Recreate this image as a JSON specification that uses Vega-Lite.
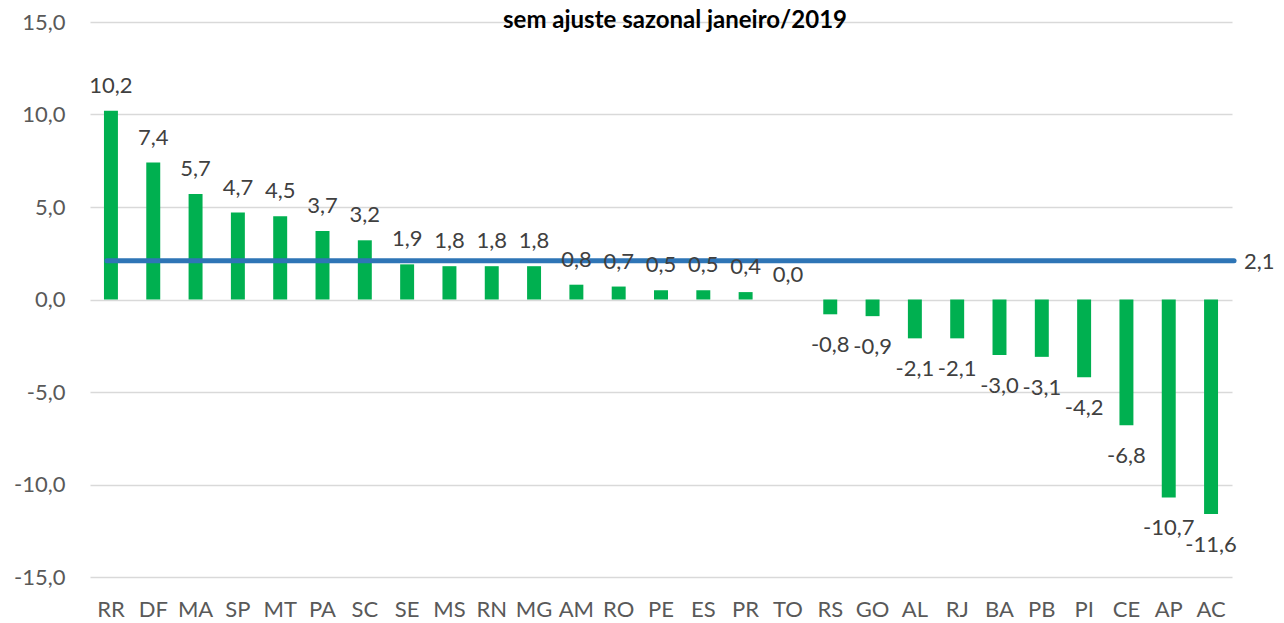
{
  "$schema": "https://vega.github.io/schema/vega-lite/v6.json",
  "width": 1142,
  "height": 555,
  "autosize": {"type": "none"},
  "padding": {"left": 90, "top": 22, "right": 52, "bottom": 46},
  "config": {
    "locale": {"number": {"decimal": ",", "thousands": ".", "grouping": [3], "currency": ["R$", ""], "minus": "-"}},
    "view": {"stroke": null},
    "font": "Lato"
  },
  "title": {
    "text": "sem ajuste sazonal  janeiro/2019",
    "fontSize": 24,
    "fontWeight": "bold",
    "color": "#000000",
    "font": "Lato",
    "anchor": "middle",
    "baseline": "alphabetic",
    "offset": -41,
    "dx": 14
  },
  "datasets": {
    "ufs": [
      {"uf": "RR", "valor": 10.2},
      {"uf": "DF", "valor": 7.4},
      {"uf": "MA", "valor": 5.7},
      {"uf": "SP", "valor": 4.7},
      {"uf": "MT", "valor": 4.5},
      {"uf": "PA", "valor": 3.7},
      {"uf": "SC", "valor": 3.2},
      {"uf": "SE", "valor": 1.9},
      {"uf": "MS", "valor": 1.8},
      {"uf": "RN", "valor": 1.8},
      {"uf": "MG", "valor": 1.8},
      {"uf": "AM", "valor": 0.8},
      {"uf": "RO", "valor": 0.7},
      {"uf": "PE", "valor": 0.5},
      {"uf": "ES", "valor": 0.5},
      {"uf": "PR", "valor": 0.4},
      {"uf": "TO", "valor": 0.0},
      {"uf": "RS", "valor": -0.8},
      {"uf": "GO", "valor": -0.9},
      {"uf": "AL", "valor": -2.1},
      {"uf": "RJ", "valor": -2.1},
      {"uf": "BA", "valor": -3.0},
      {"uf": "PB", "valor": -3.1},
      {"uf": "PI", "valor": -4.2},
      {"uf": "CE", "valor": -6.8},
      {"uf": "AP", "valor": -10.7},
      {"uf": "AC", "valor": -11.6}
    ],
    "brasil": [
      {"ini": "RR", "fim": "AC", "valor": 2.1}
    ]
  },
  "layer": [
    {
      "data": {"name": "ufs"},
      "mark": {"type": "bar", "color": "#00B050"},
      "encoding": {
        "x": {
          "field": "uf", "type": "nominal", "sort": null,
          "scale": {"paddingInner": 0.67, "paddingOuter": 0.33},
          "axis": {"title": null, "domain": false, "ticks": false, "labelAngle": 0, "labelFontSize": 22, "labelColor": "#595959", "labelPadding": 22, "labelFont": "Lato"}
        },
        "y": {
          "field": "valor", "type": "quantitative",
          "scale": {"domain": [-15, 15], "nice": false, "zero": true},
          "axis": {"title": null, "values": [-15, -10, -5, 0, 5, 10, 15], "format": ".1f", "domain": false, "ticks": false, "gridColor": "#D9D9D9", "gridWidth": 1.5, "labelFontSize": 22, "labelColor": "#595959", "labelPadding": 25, "labelFont": "Lato"}
        }
      }
    },
    {
      "data": {"name": "brasil"},
      "mark": {"type": "rule", "color": "#2E75B6", "strokeWidth": 5, "strokeCap": "round", "x2Offset": 23, "xOffset": -4},
      "encoding": {
        "x": {"field": "ini", "type": "nominal", "sort": null},
        "x2": {"field": "fim"},
        "y": {"field": "valor", "type": "quantitative"}
      }
    },
    {
      "data": {"name": "ufs"},
      "transform": [{"filter": "datum.valor >= 0"}],
      "mark": {"type": "text", "baseline": "alphabetic", "dy": -18, "fontSize": 22, "color": "#404040", "font": "Lato"},
      "encoding": {
        "x": {"field": "uf", "type": "nominal", "sort": null},
        "y": {"field": "valor", "type": "quantitative"},
        "text": {"field": "valor", "type": "quantitative", "format": ".1f"}
      }
    },
    {
      "data": {"name": "ufs"},
      "transform": [{"filter": "datum.valor < 0"}],
      "mark": {"type": "text", "baseline": "alphabetic", "dy": 38, "fontSize": 22, "color": "#404040", "font": "Lato"},
      "encoding": {
        "x": {"field": "uf", "type": "nominal", "sort": null},
        "y": {"field": "valor", "type": "quantitative"},
        "text": {"field": "valor", "type": "quantitative", "format": ".1f"}
      }
    },
    {
      "data": {"name": "brasil"},
      "mark": {"type": "text", "align": "left", "baseline": "middle", "dx": 33, "dy": 1, "fontSize": 22, "color": "#404040", "font": "Lato"},
      "encoding": {
        "x": {"field": "fim", "type": "nominal", "sort": null},
        "y": {"field": "valor", "type": "quantitative"},
        "text": {"field": "valor", "type": "quantitative", "format": ".1f"}
      }
    }
  ]
}
